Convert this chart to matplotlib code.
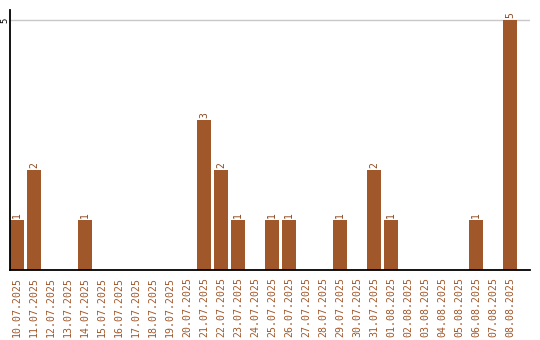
import matplotlib
matplotlib.use("Agg")
import matplotlib.pyplot as plt

dates = ["10.07.2025", "11.07.2025", "12.07.2025", "13.07.2025", "14.07.2025",
         "15.07.2025", "16.07.2025", "17.07.2025", "18.07.2025", "19.07.2025",
         "20.07.2025", "21.07.2025", "22.07.2025", "23.07.2025", "24.07.2025",
         "25.07.2025", "26.07.2025", "27.07.2025", "28.07.2025", "29.07.2025",
         "30.07.2025", "31.07.2025", "01.08.2025", "02.08.2025", "03.08.2025",
         "04.08.2025", "05.08.2025", "06.08.2025", "07.08.2025", "08.08.2025"]
counts = [1, 2, 0, 0, 1, 0, 0, 0, 0, 0, 0, 3, 2, 1, 0, 1, 1, 0, 0, 1,
          0, 2, 1, 0, 0, 0, 0, 1, 0, 5]
y_ticks = [5]

W, H = 540, 340
fig = plt.figure(figsize=(W / 100, H / 100), dpi=100)
ax = fig.add_axes([10 / W, 1 - 270 / H, 520 / W, 260 / H])

bar_color = "#a0572a"
bw = 14 / 17
x = list(range(len(dates)))
ax.bar(x, counts, width=bw, color=bar_color, zorder=2)

for xi, v in zip(x, counts):
    if v > 0:
        ax.text(xi, v + 0.04, str(v), rotation=90, ha="center", va="bottom",
                fontsize=7, family="DejaVu Sans Mono", color="#8a4a22")

ax.set_xlim(-bw / 2, -bw / 2 + 520 / 17)
ax.set_ylim(0, 5.2)
ax.set_xticks(x)
ax.set_xticklabels(dates, rotation=90, fontsize=7.1, family="DejaVu Sans Mono",
                   color=bar_color)
ax.tick_params(axis="x", length=0, pad=5)
ax.set_yticks(y_ticks)
ax.set_yticklabels([str(t) for t in y_ticks], rotation=90, fontsize=6.5,
                   family="DejaVu Sans Mono", va="center")
ax.tick_params(axis="y", length=0, pad=0.5)
ax.yaxis.grid(True, color="#c8c8c8", linewidth=1, zorder=0)
for s in ("top", "right"):
    ax.spines[s].set_visible(False)
ax.spines["left"].set_linewidth(1.3)
ax.spines["bottom"].set_linewidth(1.3)

fig.savefig("out.png", dpi=100)
